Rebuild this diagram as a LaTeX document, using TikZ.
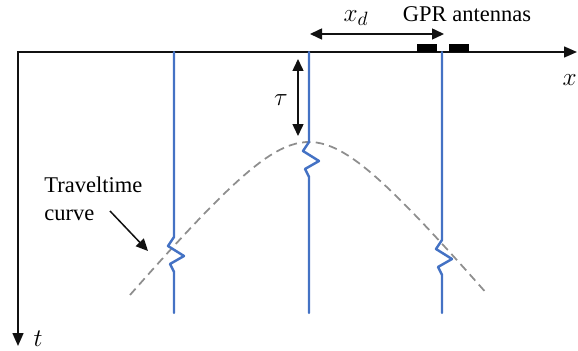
\documentclass[tikz,border=0pt]{standalone}
\usepackage{fontspec}
\setmainfont{Liberation Serif}
\usetikzlibrary{arrows.meta}
\def\wAxis{0.85pt}
\def\wTrace{1.4pt}
\definecolor{cTrace}{HTML}{4472C4}
\definecolor{cCurve}{HTML}{8E8E8E}
\definecolor{cInk}{HTML}{111111}
\tikzset{
  gpr/.style={x=0.02cm, y=-0.02cm},
  axis/.style={draw=cInk, line width=\wAxis, line join=miter},
  span/.style={draw=cInk, line width=\wAxis, {Triangle[length=2.4mm, width=2.2mm]}-{Triangle[length=2.4mm, width=2.2mm]}},
  pointer/.style={draw=cInk, line width=\wAxis, -{Triangle[length=2.4mm, width=2.2mm]}},
  trace/.style={draw=cTrace, line width=\wTrace, line join=round, line cap=round},
  tcurve/.style={draw=cCurve, line width=1pt, dash pattern=on 4.8pt off 3pt},
  antenna/.style={fill=black, draw=none, minimum width=0.4cm, minimum height=0.15cm, inner sep=0pt},
  lbl/.style={font=\fontsize{12.8}{15.9}\selectfont, inner sep=0pt},
  sym/.style={font=\fontsize{15}{17}\selectfont, inner sep=0pt},
}
% one wiggle on a trace, relative to where the trace reaches the curve
\newcommand{\wig}{-- ++(-6,9) -- ++(16,10) -- ++(-14,8) -- ++(4,8)}

\begin{document}
\begin{tikzpicture}[gpr]
\useasboundingbox (0,0) rectangle (578,351);

% ---- axes: x along the surface, t downwards
\coordinate (o) at (18,52);
\coordinate (xend) at (577,52);
\coordinate (tend) at (18,346);
\draw[axis, {Triangle[length=2.6mm, width=2.2mm]}-{Triangle[length=2.6mm, width=2.2mm]}] (tend) -- (o) -- (xend);
\node[sym, anchor=east] (xlab) at (577,80) {$x$};
\node[sym] (tlab) at (38,339) {$t$};

% ---- antennas on the surface
\node[antenna] (ant1) at (427,48) {};
\node[antenna] (ant2) at (459,48) {};
\node[lbl] (gprlab) at (467,14) {GPR antennas};

% ---- traveltime curve (hyperbola, apex at the middle trace)
\draw[tcurve] plot[domain=-179:178, samples=70] ({309+\x},{142+10*sqrt(55.2+0.12*\x*0.12*\x)-74.3});

% ---- traces
\coordinate (tr1top) at (174,52);  \coordinate (tr1bot) at (174,313);
\coordinate (tr2top) at (309,52);  \coordinate (tr2bot) at (309,313);
\coordinate (tr3top) at (442,52);  \coordinate (tr3bot) at (442,313);
\draw[trace] (tr1top) -- (174,237) \wig -- (tr1bot);
\draw[trace] (tr2top) -- (309,142) \wig -- (tr2bot);
\draw[trace] (tr3top) -- (442,240) \wig -- (tr3bot);

% ---- offset and delay
\coordinate (xdA) at (310,34);
\coordinate (xdB) at (444,34);
\draw[span] (xdA) -- (xdB);
\node[sym] (xdlab) at (356,18) {$x_d$};
\coordinate (tauA) at (298,59);
\coordinate (tauB) at (298,136);
\draw[span] (tauA) -- (tauB);
\node[sym] (taulab) at (281,100) {$\tau$};

% ---- label for the curve
\node[lbl, anchor=west, align=left] (curvelab) at (44,199) {Traveltime\\curve};
\coordinate (ptrA) at (110,211);
\coordinate (ptrB) at (148,251);
\draw[pointer] (ptrA) -- (ptrB);
\end{tikzpicture}
\end{document}
